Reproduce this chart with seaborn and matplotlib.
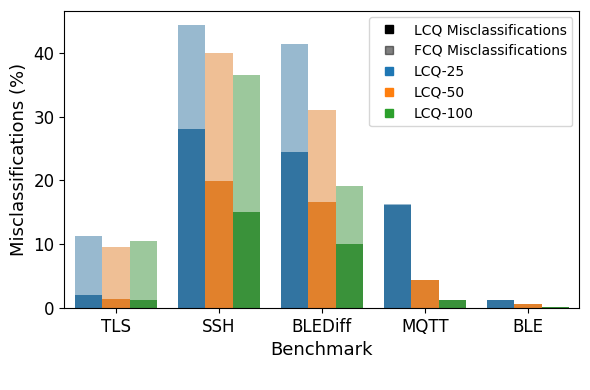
import matplotlib
matplotlib.use("Agg")
import matplotlib.pyplot as plt
from matplotlib.lines import Line2D
import seaborn as sns
import pandas as pd

benchmarks = ["TLS", "SSH", "BLEDiff", "MQTT", "BLE"]
configs = ["LCQ-25", "LCQ-50", "LCQ-100"]

lcq_25 = [2.1, 28.0, 24.4, 16.1, 1.2]
lcq_50 = [1.4, 19.9, 16.6, 4.4, 0.6]
lcq_100 = [1.3, 15.0, 10.0, 1.2, 0.15]

fcq_25 = [11.3, 44.4, 41.3, 16.3, 1.2]
fcq_50 = [9.6, 39.9, 31.0, 4.4, 0.6]
fcq_100 = [10.5, 36.5, 19.1, 1.2, 0.15]

rows = []
for cfg, lv, fv in zip(configs, [lcq_25, lcq_50, lcq_100], [fcq_25, fcq_50, fcq_100]):
    for b, l, f in zip(benchmarks, lv, fv):
        rows.append({"Benchmark": b, "Config": cfg, "LCQ": l, "FCQ": f})
df = pd.DataFrame(rows)

fig, ax = plt.subplots(figsize=(5.9, 3.9), dpi=100)
palette = sns.color_palette("tab10", 3)

sns.barplot(data=df, x="Benchmark", y="FCQ", hue="Config", order=benchmarks,
            hue_order=configs, palette=palette, alpha=0.5, ax=ax, legend=False)
sns.barplot(data=df, x="Benchmark", y="LCQ", hue="Config", order=benchmarks,
            hue_order=configs, palette=palette, ax=ax, legend=False)

ax.set_xlabel("Benchmark", fontsize=13)
ax.set_ylabel("Misclassifications (%)", fontsize=13)
ax.tick_params(axis="both", labelsize=12)

handles = [
    Line2D([], [], marker="s", linestyle="", color="black", label="LCQ Misclassifications"),
    Line2D([], [], marker="s", linestyle="", color="black", alpha=0.5, label="FCQ Misclassifications"),
]
for c, cfg in zip(palette, configs):
    handles.append(Line2D([], [], marker="s", linestyle="", color=c, label=cfg))
ax.legend(handles=handles, loc="upper right", fontsize=10)

fig.subplots_adjust(left=0.109, right=0.982, top=0.973, bottom=0.210)
fig.savefig("out.png", dpi=100)
